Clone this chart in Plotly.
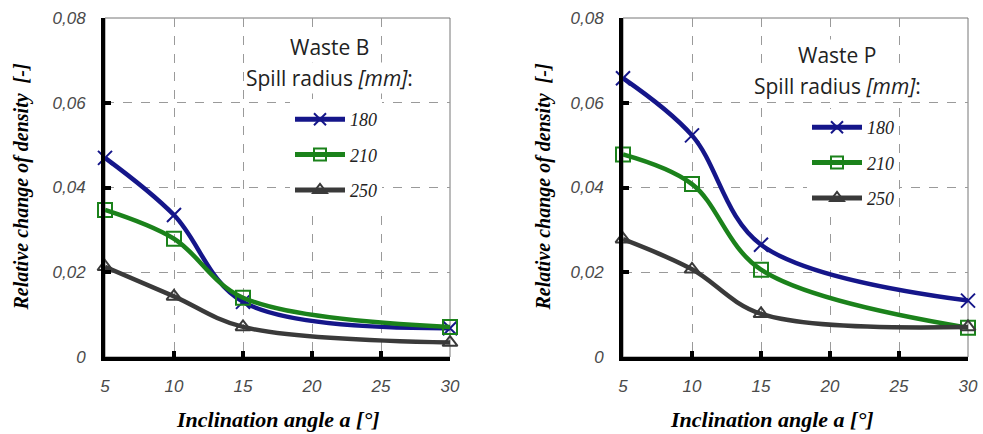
import plotly.graph_objects as go

angles = [5, 10, 15, 30]
radii = ["180", "210", "250"]

waste_b = {
    "180": [0.047, 0.0335, 0.013, 0.0068],
    "210": [0.0347, 0.0279, 0.014, 0.0071],
    "250": [0.0213, 0.0143, 0.0071, 0.0034],
}
waste_p = {
    "180": [0.0658, 0.0523, 0.0265, 0.0133],
    "210": [0.0478, 0.0408, 0.0206, 0.0069],
    "250": [0.0278, 0.0207, 0.0102, 0.0071],
}

x_ticks = [5, 10, 15, 20, 25, 30]
y_ticks = [0, 0.02, 0.04, 0.06, 0.08]
y_ticktext = ["0", "0,02", "0,04", "0,06", "0,08"]

colors = {"180": "#15168a", "210": "#1b821b", "250": "#3a3a3a"}
symbols = {"180": "x-thin-open", "210": "square-open", "250": "triangle-up-open"}
msizes = {"180": 14, "210": 14, "250": 13}

W, H = 983, 434
dom_left = [105 / W, 450 / W]
dom_right = [623 / W, 968 / W]
dom_y = [1 - 357 / H, 1 - 18 / H]

fig = go.Figure()

for data, xa, ya, leg in [(waste_b, "x", "y", "legend"), (waste_p, "x2", "y2", "legend2")]:
    for i, r in enumerate(radii):
        fig.add_trace(go.Scatter(
            x=angles, y=data[r], name=r, xaxis=xa, yaxis=ya, legend=leg,
            legendgroup=leg + r,
            mode="lines+markers",
            line=dict(color=colors[r], width=4.5, shape="spline", smoothing=1.0),
            marker=dict(symbol=symbols[r], size=msizes[r], color=colors[r],
                        line=dict(color=colors[r], width=2)),
            cliponaxis=False,
        ))

tick_font = dict(family="Liberation Sans", size=17, color="#4a4a4a", style="italic")
axis_common = dict(
    showline=True, linewidth=4, linecolor="black", automargin=False,
    ticks="inside", ticklen=6, tickwidth=4, tickcolor="black",
    showgrid=True, gridcolor="#9a9a9a", gridwidth=1, griddash="dash",
    zeroline=False, tickfont=tick_font,
)

leg_font = dict(family="Liberation Serif", size=18, color="#222", style="italic")
fig.update_layout(
    template="none",
    width=W, height=H,
    margin=dict(l=0, r=0, t=0, b=0, autoexpand=False),
    paper_bgcolor="white", plot_bgcolor="white",
    xaxis=dict(domain=dom_left, range=[5, 30], tickvals=x_ticks, anchor="y",
               ticklabelstandoff=11, **axis_common),
    yaxis=dict(domain=dom_y, range=[0, 0.08], tickvals=y_ticks, ticktext=y_ticktext,
               anchor="x", ticklabelstandoff=12, **axis_common),
    xaxis2=dict(domain=dom_right, range=[5, 30], tickvals=x_ticks, anchor="y2",
                ticklabelstandoff=11, **axis_common),
    yaxis2=dict(domain=dom_y, range=[0, 0.08], tickvals=y_ticks, ticktext=y_ticktext,
                anchor="x2", ticklabelstandoff=12, **axis_common),
    legend=dict(x=290 / W, y=1 - 101 / H, xanchor="left", yanchor="top",
                bgcolor="white", itemwidth=50, tracegroupgap=9, itemsizing="constant",
                font=leg_font),
    legend2=dict(x=807 / W, y=1 - 109 / H, xanchor="left", yanchor="top",
                 bgcolor="white", itemwidth=50, tracegroupgap=9, itemsizing="constant",
                 font=leg_font),
    showlegend=True,
)

# thin grey frame on top/right
for xa, ya in [("x", "y"), ("x2", "y2")]:
    fig.add_shape(type="rect", xref=f"{xa} domain", yref=f"{ya} domain",
                  x0=0, x1=1, y0=0, y1=1, line=dict(color="#777", width=1), layer="below")

ann = []
for xc in [(105 + 450) / 2 / W, 772 / W]:
    ann.append(dict(text="Inclination angle a [°]", x=xc, y=1 - 419 / H, xref="paper", yref="paper",
                    xanchor="center", yanchor="middle", showarrow=False,
                    font=dict(family="Liberation Serif", size=22, color="black", weight="bold", style="italic")))
for xc in [21 / W, 543 / W]:
    ann.append(dict(text="Relative change of density  [-]", x=xc, y=(dom_y[0] + dom_y[1]) / 2,
                    xref="paper", yref="paper", textangle=-90, showarrow=False,
                    xanchor="center", yanchor="middle",
                    font=dict(family="Liberation Serif", size=20, color="black", weight="bold", style="italic")))
title_font = dict(family="Open Sans", size=21, color="#222")
for name, xc, y1, y2 in [("Waste B", 329 / W, 47, 78), ("Waste P", 837 / W, 55, 86)]:
    ann.append(dict(text=name, x=xc, y=1 - y1 / H, xref="paper", yref="paper",
                    xanchor="center", yanchor="middle",
                    showarrow=False, bgcolor="white", font=title_font))
    ann.append(dict(text="Spill radius <i>[mm]</i>:", x=xc, y=1 - y2 / H, xref="paper", yref="paper",
                    xanchor="center", yanchor="middle",
                    showarrow=False, bgcolor="white", font=title_font))
fig.update_layout(annotations=ann)

fig.write_html("out.html")
